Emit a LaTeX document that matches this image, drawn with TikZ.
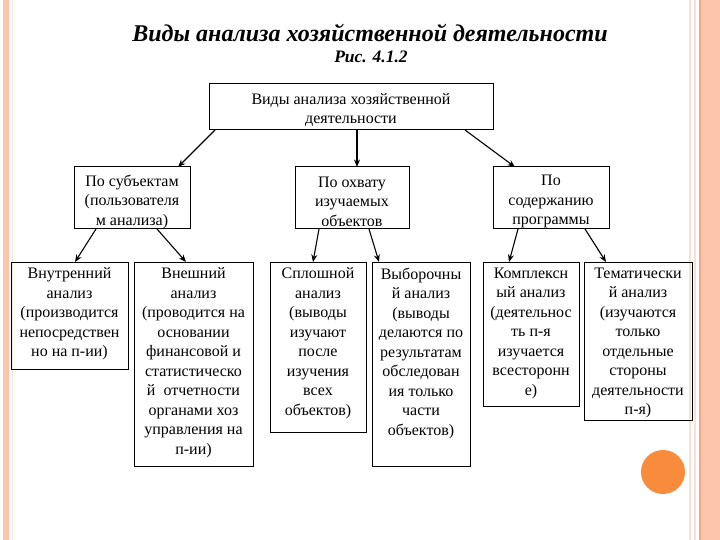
\documentclass[tikz,border=0pt]{standalone}
\usepackage{fontspec}
\setmainfont{Liberation Serif}
\newfontfamily\boxfont{Liberation Serif}
\usetikzlibrary{arrows.meta,calc}
\definecolor{salmon}{HTML}{FCC5AC}
\definecolor{paleline}{HTML}{F8E0D2}
\definecolor{darkline}{HTML}{F3A581}
\definecolor{dot}{HTML}{F98B3D}
\tikzset{
  box/.style={draw, line width=1pt, inner sep=0pt, outer sep=0pt, anchor=north west},
  txt/.style={align=center, inner sep=0pt, font=\boxfont\fontsize{16}{19.5}\selectfont},
  arr/.style={line width=1.1pt, -{Stealth[length=7.5pt,width=6pt]}}
}
\begin{document}
\begin{tikzpicture}[x=1pt,y=-1pt]
\useasboundingbox (0,0) rectangle (720,540);
\fill[white] (0,0) rectangle (720,540);
% side decoration
\fill[salmon] (3,0) rectangle (9,540);
\fill[paleline] (11.5,0) rectangle (13,540);
\fill[paleline] (688.5,0) rectangle (690.5,540);
\fill[paleline] (693.5,0) rectangle (695.5,540);
\fill[darkline] (698.5,0) rectangle (701,540);
\fill[salmon] (701,0) rectangle (720,540);
\fill[dot] (663,472) circle (22);
% titles
\node[font=\boxfont\fontsize{24}{27}\selectfont\bfseries\itshape, inner sep=0pt] (title) at (370,33) {Виды анализа хозяйственной деятельности};
\node[font=\boxfont\fontsize{17.5}{20}\selectfont\bfseries\itshape, inner sep=0pt] (fig) at (371,57) {Рис. 4.1.2};
% boxes
\node[box, minimum width=284, minimum height=46] (top) at (209,84) {};
\node[box, minimum width=116, minimum height=62] (A) at (74,167) {};
\node[box, minimum width=114, minimum height=62] (B) at (295,167) {};
\node[box, minimum width=116, minimum height=62] (C) at (493,167) {};
\node[box, minimum width=117, minimum height=107] (D1) at (11,262) {};
\node[box, minimum width=119, minimum height=204] (D2) at (134,262) {};
\node[box, minimum width=96, minimum height=170] (E1) at (270,262) {};
\node[box, minimum width=98, minimum height=204] (E2) at (372,262) {};
\node[box, minimum width=96, minimum height=144] (F1) at (483,262) {};
\node[box, minimum width=108, minimum height=158] (F2) at (584,262) {};
% texts
\node[txt] (topt) at (351,110) {Виды анализа хозяйственной\\деятельности};
\node[txt] (At) at (132,201.5) {По субъектам\\(пользователя\\м анализа)};
\node[txt] (Bt) at (352,201.5) {По охвату\\изучаемых\\объектов};
\node[txt] (Ct) at (551,201.5) {По\\содержанию\\программы};
\node[txt, anchor=north] (D1t) at (69.5,267.5) {Внутренний\\анализ\\(производится\\непосредствен\\но на п-ии)};
\node[txt, anchor=north] (D2t) at (193.5,267.5) {Внешний\\анализ\\(проводится на\\основании\\финансовой и\\статистическо\\й~ отчетности\\органами хоз\\управления на\\п-ии)};
\node[txt, anchor=north] (E1t) at (318,267.5) {Сплошной\\анализ\\(выводы\\изучают\\после\\изучения\\всех\\объектов)};
\node[txt, anchor=north] (E2t) at (421,267.5) {Выборочны\\й анализ\\(выводы\\делаются по\\результатам\\обследован\\ия только\\части\\объектов)};
\node[txt, anchor=north] (F1t) at (531,267.5) {Комплексн\\ый анализ\\(деятельнос\\ть п-я\\изучается\\всесторонн\\е)};
\node[txt, anchor=north] (F2t) at (638,267.5) {Тематически\\й анализ\\(изучаются\\только\\отдельные\\стороны\\деятельности\\п-я)};
% connectors
\draw[arr] ($(top.south west)+(6,0)$) -- ($(A.north west)+(104,0)$);
\draw[arr] ($(top.south west)+(148,0)$) -- ($(B.north west)+(62,0)$);
\draw[arr] ($(top.south west)+(256,0)$) -- ($(C.north west)+(22,0)$);
\draw[arr] ($(A.south west)+(22,0)$) -- ($(D1.north west)+(64,0)$);
\draw[arr] ($(A.south west)+(83,0)$) -- ($(D2.north west)+(52,0)$);
\draw[arr] ($(B.south west)+(24,0)$) -- ($(E1.north west)+(43,0)$);
\draw[arr] ($(B.south west)+(74,0)$) -- ($(E2.north west)+(7,0)$);
\draw[arr] ($(C.south west)+(25,0)$) -- ($(F1.north west)+(26,0)$);
\draw[arr] ($(C.south west)+(92,0)$) -- ($(F2.north west)+(22,0)$);
\end{tikzpicture}
\end{document}
